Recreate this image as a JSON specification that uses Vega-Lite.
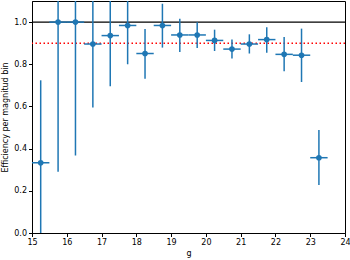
{
  "$schema": "https://vega.github.io/schema/vega-lite/v6.json",
  "width": 313,
  "height": 232,
  "autosize": "none",
  "padding": {"left": 32, "top": 1, "right": 5, "bottom": 27},
  "config": {
    "view": {"stroke": "black", "strokeWidth": 1},
    "font": "DejaVu Sans",
    "axis": {
      "grid": false,
      "domainColor": "black",
      "tickColor": "black",
      "labelColor": "black",
      "titleColor": "black",
      "labelFontSize": 8,
      "titleFontSize": 8,
      "titleFontWeight": "normal",
      "tickSize": 3.5,
      "labelPadding": 2,
      "labelFont": "DejaVu Sans",
      "titleFont": "DejaVu Sans"
    },
    "axisX": {"tickCount": 9, "labelOverlap": false, "labelFlush": false},
    "axisY": {"tickCount": 6, "labelOverlap": false, "labelFlush": false}
  },
  "data": {
    "values": [
      {"g": 15.25, "eff": 0.333, "lo": -0.06, "hi": 0.724, "glo": 15.0, "ghi": 15.5},
      {"g": 15.75, "eff": 1.0, "lo": 0.291, "hi": 1.709, "glo": 15.5, "ghi": 16.0},
      {"g": 16.25, "eff": 1.0, "lo": 0.367, "hi": 1.633, "glo": 16.0, "ghi": 16.5},
      {"g": 16.75, "eff": 0.896, "lo": 0.595, "hi": 1.197, "glo": 16.5, "ghi": 17.0},
      {"g": 17.25, "eff": 0.936, "lo": 0.696, "hi": 1.176, "glo": 17.0, "ghi": 17.5},
      {"g": 17.75, "eff": 0.984, "lo": 0.8, "hi": 1.168, "glo": 17.5, "ghi": 18.0},
      {"g": 18.25, "eff": 0.851, "lo": 0.731, "hi": 0.967, "glo": 18.0, "ghi": 18.5},
      {"g": 18.75, "eff": 0.984, "lo": 0.879, "hi": 1.087, "glo": 18.5, "ghi": 19.0},
      {"g": 19.25, "eff": 0.939, "lo": 0.858, "hi": 1.016, "glo": 19.0, "ghi": 19.5},
      {"g": 19.75, "eff": 0.939, "lo": 0.877, "hi": 0.999, "glo": 19.5, "ghi": 20.0},
      {"g": 20.25, "eff": 0.913, "lo": 0.863, "hi": 0.964, "glo": 20.0, "ghi": 20.5},
      {"g": 20.75, "eff": 0.872, "lo": 0.827, "hi": 0.917, "glo": 20.5, "ghi": 21.0},
      {"g": 21.25, "eff": 0.896, "lo": 0.851, "hi": 0.942, "glo": 21.0, "ghi": 21.5},
      {"g": 21.75, "eff": 0.917, "lo": 0.855, "hi": 0.976, "glo": 21.5, "ghi": 22.0},
      {"g": 22.25, "eff": 0.847, "lo": 0.767, "hi": 0.929, "glo": 22.0, "ghi": 22.5},
      {"g": 22.75, "eff": 0.843, "lo": 0.716, "hi": 0.969, "glo": 22.5, "ghi": 23.0},
      {"g": 23.25, "eff": 0.357, "lo": 0.227, "hi": 0.488, "glo": 23.0, "ghi": 23.5}
    ]
  },
  "layer": [
    {
      "data": {"values": [{"level": 1.0}]},
      "mark": {"type": "rule", "color": "black", "strokeWidth": 1.2},
      "encoding": {"y": {"field": "level", "type": "quantitative"}}
    },
    {
      "data": {"values": [{"level": 0.9}]},
      "mark": {"type": "rule", "color": "red", "strokeWidth": 1.5, "strokeDash": [1.5, 2.5]},
      "encoding": {"y": {"field": "level", "type": "quantitative"}}
    },
    {
      "mark": {"type": "rule", "color": "#1f77b4", "strokeWidth": 1.5, "clip": true},
      "encoding": {
        "x": {"field": "g", "type": "quantitative"},
        "y": {"field": "lo", "type": "quantitative"},
        "y2": {"field": "hi"}
      }
    },
    {
      "mark": {"type": "rule", "color": "#1f77b4", "strokeWidth": 1.5, "clip": true},
      "encoding": {
        "x": {"field": "glo", "type": "quantitative"},
        "x2": {"field": "ghi"},
        "y": {"field": "eff", "type": "quantitative"}
      }
    },
    {
      "mark": {"type": "point", "filled": true, "color": "#1f77b4", "opacity": 1, "size": 32, "clip": true},
      "encoding": {
        "x": {
          "field": "g", "type": "quantitative",
          "scale": {"domain": [15, 24], "nice": false, "zero": false},
          "axis": {"title": "g", "tickCount": 9, "format": "d", "titlePadding": 3}
        },
        "y": {
          "field": "eff", "type": "quantitative",
          "scale": {"domain": [0, 1.1], "nice": false},
          "axis": {"title": "Efficiency per magnitud bin", "format": ".1f", "titlePadding": 4}
        }
      }
    }
  ]
}
